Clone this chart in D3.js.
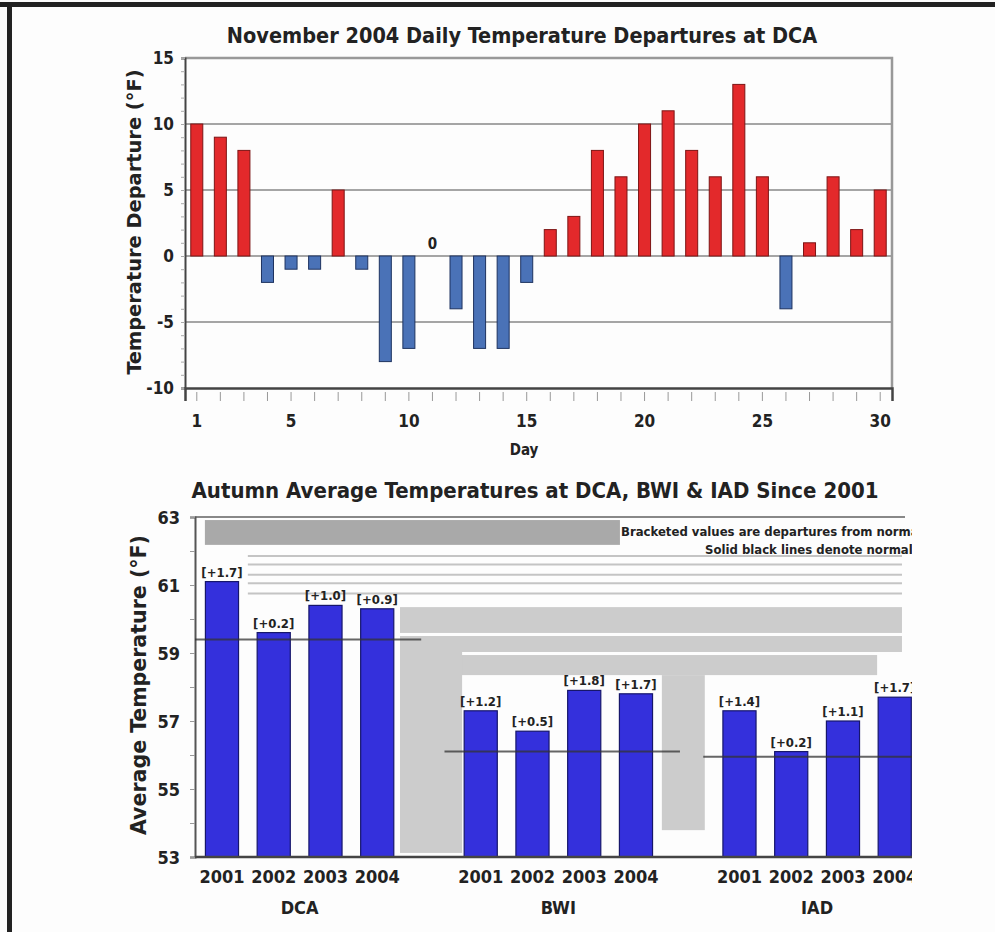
<!DOCTYPE html>
<html>
<head>
<meta charset="utf-8">
<script src="https://cdn.jsdelivr.net/npm/d3@7"></script>
<style>
  body { margin: 0; background: #fdfdfd; }
  svg { display: block; }
  text { font-family: "Liberation Sans Narrow", "DejaVu Sans Condensed", "Liberation Sans", sans-serif; font-weight: bold; fill: #222; }
</style>
</head>
<body>
<div id="chart"></div>
<script>
// ---- top chart data: November 2004 daily departures at DCA
const days = [1,2,3,4,5,6,7,8,9,10,11,12,13,14,15,16,17,18,19,20,21,22,23,24,25,26,27,28,29,30];
const departures = [10,9,8,-2,-1,-1,5,-1,-8,-7,0,-4,-7,-7,-2,2,3,8,6,10,11,8,6,13,6,-4,1,6,2,5];
const dayLabels = [1,5,10,15,20,25,30];
const depTicks = [-10,-5,0,5,10,15];

// ---- bottom chart data: autumn averages
const stations = ["DCA","BWI","IAD"];
const years = ["2001","2002","2003","2004"];
const dcaAvg = [61.1,59.6,60.4,60.3];
const bwiAvg = [57.3,56.7,57.9,57.8];
const iadAvg = [57.3,56.1,57.0,57.7];
const dcaDep = ["+1.7","+0.2","+1.0","+0.9"];
const bwiDep = ["+1.2","+0.5","+1.8","+1.7"];
const iadDep = ["+1.4","+0.2","+1.1","+1.7"];
const normals = [59.4,56.1,55.95];
const avgTicks = [53,55,57,59,61,63];

const W = 995, H = 932;
const svg = d3.select("#chart").append("svg")
  .attr("width", W).attr("height", H);

svg.append("rect").attr("width", W).attr("height", H).attr("fill", "#fdfdfd");
// frame (top and left only)
svg.append("rect").attr("x", 0).attr("y", 2).attr("width", W).attr("height", 5).attr("fill", "#222");
svg.append("rect").attr("x", 7).attr("y", 2).attr("width", 5).attr("height", H).attr("fill", "#222");

/* ================= top chart ================= */
const m1 = {left:185, right:892, top:58, bottom:388};
const chart1 = svg.append("g");

const x1 = d3.scaleBand()
  .domain(days)
  .range([m1.left, m1.right])
  .paddingInner(0.49)
  .paddingOuter(0.245);

const y1 = d3.scaleLinear()
  .domain([-10, 15])
  .range([m1.bottom, m1.top]);

chart1.append("text")
  .attr("x", 522).attr("y", 43)
  .attr("text-anchor", "middle")
  .attr("font-size", 21.5)
  .text("November 2004 Daily Temperature Departures at DCA");

// grid lines
chart1.append("g")
  .selectAll("line")
  .data([-5,0,5,10])
  .join("line")
    .attr("x1", m1.left).attr("x2", m1.right)
    .attr("y1", d => y1(d)).attr("y2", d => y1(d))
    .attr("stroke", "#a5a5a5")
    .attr("stroke-width", 2);

// frame top/right
chart1.append("path")
  .attr("d", `M${m1.left},${m1.top}H${m1.right}V${m1.bottom}`)
  .attr("fill", "none").attr("stroke", "#999").attr("stroke-width", 2.5);

// y axis
const yAxis1 = chart1.append("g")
  .attr("transform", `translate(${m1.left},0)`)
  .call(d3.axisLeft(y1).ticks(25).tickSize(4).tickFormat(""));
yAxis1.select(".domain").attr("stroke", "#444").attr("stroke-width", 2);
yAxis1.selectAll(".tick line").attr("stroke", "#aaa");

chart1.append("g")
  .selectAll("text")
  .data(depTicks)
  .join("text")
    .attr("x", 174)
    .attr("y", d => y1(d) + 6)
    .attr("text-anchor", "end")
    .attr("font-size", 17)
    .text(d => d);

// x axis
const xAxis1 = chart1.append("g")
  .attr("transform", `translate(0,${m1.bottom})`)
  .call(d3.axisBottom(x1).tickSize(13).tickPadding(14)
    .tickFormat(d => dayLabels.includes(d) ? d : ""));
xAxis1.select(".domain").attr("stroke", "#444").attr("stroke-width", 2.5);
xAxis1.selectAll(".tick line").attr("stroke", "#999").attr("stroke-dasharray", "0,4,9");
xAxis1.selectAll(".tick text")
  .attr("font-size", 17)
  .attr("font-family", "'Liberation Sans Narrow','DejaVu Sans Condensed',sans-serif")
  .attr("font-weight", "bold")
  .attr("fill", "#222");

chart1.append("text")
  .attr("x", 524).attr("y", 455)
  .attr("text-anchor", "middle")
  .attr("font-size", 15)
  .text("Day");

chart1.append("text")
  .attr("transform", `translate(141,222) rotate(-90)`)
  .attr("text-anchor", "middle")
  .attr("font-size", 20)
  .attr("textLength", 305)
  .attr("lengthAdjust", "spacingAndGlyphs")
  .text("Temperature Departure (°F)");

// bars
chart1.append("g")
  .selectAll("rect")
  .data(days.map((d, i) => ({day: d, v: departures[i]})))
  .join("rect")
    .attr("x", d => x1(d.day))
    .attr("width", x1.bandwidth())
    .attr("y", d => y1(Math.max(0, d.v)))
    .attr("height", d => Math.abs(y1(d.v) - y1(0)))
    .attr("fill", d => d.v > 0 ? "#e3292b" : "#4a72b7")
    .attr("stroke", d => d.v > 0 ? "#7d1515" : "#1e3360")
    .attr("stroke-width", 1);

// zero value label
chart1.append("g")
  .selectAll("text")
  .data(days.map((d, i) => ({day: d, v: departures[i]})).filter(d => d.v === 0))
  .join("text")
    .attr("x", d => x1(d.day) + x1.bandwidth() / 2)
    .attr("y", d => y1(d.v) - 7)
    .attr("text-anchor", "middle")
    .attr("font-size", 15)
    .attr("fill", "#333")
    .text(d => d.v);

/* ================= bottom chart ================= */
const m2 = {left:195, right:912, top:517, bottom:857};

svg.append("defs").append("clipPath").attr("id", "cut")
  .append("rect").attr("x", 0).attr("y", 460).attr("width", m2.right).attr("height", 480);

const chart2 = svg.append("g").attr("clip-path", "url(#cut)");

const x2 = d3.scaleBand()
  .domain(stations)
  .range([196.1, 920.6])
  .paddingInner(0.2)
  .paddingOuter(0);

const x2in = d3.scaleBand()
  .domain(years)
  .range([0, x2.bandwidth()])
  .paddingInner(0.36)
  .paddingOuter(0.18);

const y2 = d3.scaleLinear()
  .domain([53, 63])
  .range([m2.bottom, m2.top]);

const step2 = x2in.step();
// slot position -> pixel (slot 0 = left edge of first bar slot)
const slot = s => x2.range()[0] + s * step2;

chart2.append("text")
  .attr("x", 535).attr("y", 498)
  .attr("text-anchor", "middle")
  .attr("font-size", 22)
  .text("Autumn Average Temperatures at DCA, BWI & IAD Since 2001");

// grey background banding of the plot area [slotFrom, slotTo, tempLow, tempHigh, colour]
const bands = [
  [0.17, 8.19, 62.18, 62.91, "#a9a9a9"],
  [3.94, 13.64, 59.59, 60.35, "#cccccc"],
  [3.94, 13.64, 59.03, 59.5, "#cccccc"],
  [3.94, 13.16, 58.35, 58.94, "#cccccc"],
  [3.94, 5.14, 53.12, 59.03, "#cccccc"],
  [9.0, 9.83, 53.79, 58.35, "#cccccc"]
];
chart2.append("g")
  .selectAll("rect")
  .data(bands)
  .join("rect")
    .attr("x", d => slot(d[0]))
    .attr("width", d => slot(d[1]) - slot(d[0]))
    .attr("y", d => y2(d[3]))
    .attr("height", d => y2(d[2]) - y2(d[3]))
    .attr("fill", d => d[4]);

// thin grey streaks under the top band
chart2.append("g")
  .selectAll("line")
  .data([61.85, 61.6, 61.3, 61.05, 60.75])
  .join("line")
    .attr("x1", slot(1)).attr("x2", slot(13.64))
    .attr("y1", d => y2(d)).attr("y2", d => y2(d))
    .attr("stroke", "#c4c4c4").attr("stroke-width", 2);

// top frame line
chart2.append("line")
  .attr("x1", m2.left).attr("x2", 905)
  .attr("y1", m2.top).attr("y2", m2.top)
  .attr("stroke", "#888").attr("stroke-width", 2);

// y axis
const yAxis2 = chart2.append("g")
  .attr("transform", `translate(${m2.left},0)`)
  .call(d3.axisLeft(y2).ticks(10).tickSize(5).tickFormat(""));
yAxis2.select(".domain").attr("stroke", "#555").attr("stroke-width", 2);
yAxis2.selectAll(".tick line").attr("stroke", "#999");

chart2.append("g")
  .selectAll("text")
  .data(avgTicks)
  .join("text")
    .attr("x", 180)
    .attr("y", d => y2(d) + 7)
    .attr("text-anchor", "end")
    .attr("font-size", 18)
    .text(d => d);

chart2.append("text")
  .attr("transform", `translate(146,685) rotate(-90)`)
  .attr("text-anchor", "middle")
  .attr("font-size", 22)
  .attr("textLength", 300)
  .attr("lengthAdjust", "spacingAndGlyphs")
  .text("Average Temperature (°F)");

// legend notes
chart2.append("text")
  .attr("x", 621).attr("y", 536)
  .attr("font-size", 13).attr("fill", "#2a2a55")
  .text("Bracketed values are departures from normal");
chart2.append("text")
  .attr("x", 705).attr("y", 554)
  .attr("font-size", 13).attr("fill", "#2a2a55")
  .text("Solid black lines denote normals");

// bars per station
const avgs = [dcaAvg, bwiAvg, iadAvg];
const deps = [dcaDep, bwiDep, iadDep];
const rows = [];
stations.forEach((s, i) => years.forEach((yr, j) => {
  rows.push({station: s, year: yr, v: avgs[i][j], dep: deps[i][j]});
}));

const groups = chart2.append("g")
  .selectAll("g")
  .data(stations)
  .join("g")
    .attr("transform", d => `translate(${x2(d)},0)`);

groups.selectAll("rect")
  .data(s => rows.filter(r => r.station === s))
  .join("rect")
    .attr("x", d => x2in(d.year))
    .attr("width", x2in.bandwidth())
    .attr("y", d => y2(d.v))
    .attr("height", d => y2(53) - y2(d.v))
    .attr("fill", "#3430dc")
    .attr("stroke", "#16166b")
    .attr("stroke-width", 1.2);

groups.selectAll("text.dep")
  .data(s => rows.filter(r => r.station === s))
  .join("text")
    .attr("class", "dep")
    .attr("x", d => x2in(d.year) + x2in.bandwidth() / 2)
    .attr("y", d => y2(d.v) - 5)
    .attr("text-anchor", "middle")
    .attr("font-size", 13)
    .attr("fill", "#262640")
    .text(d => `[${d.dep}]`);

// normal lines
groups.append("line")
  .attr("x1", d => Math.max(-0.2 * step2, m2.left - x2(d)))
  .attr("x2", x2.bandwidth() + 0.35 * step2)
  .attr("y1", (d, i) => y2(normals[i]))
  .attr("y2", (d, i) => y2(normals[i]))
  .attr("stroke", "#333").attr("stroke-opacity", 0.75).attr("stroke-width", 2);

// baseline
chart2.append("line")
  .attr("x1", m2.left).attr("x2", m2.right)
  .attr("y1", m2.bottom).attr("y2", m2.bottom)
  .attr("stroke", "#444").attr("stroke-width", 2.5);

// year labels
groups.selectAll("text.yr")
  .data(years)
  .join("text")
    .attr("class", "yr")
    .attr("x", d => x2in(d) + x2in.bandwidth() / 2)
    .attr("y", 883)
    .attr("text-anchor", "middle")
    .attr("font-size", 18)
    .text(d => d);

groups.append("text")
  .attr("x", x2.bandwidth() / 2)
  .attr("y", 914)
  .attr("text-anchor", "middle")
  .attr("font-size", 18)
  .text(d => d);
</script>
</body>
</html>
